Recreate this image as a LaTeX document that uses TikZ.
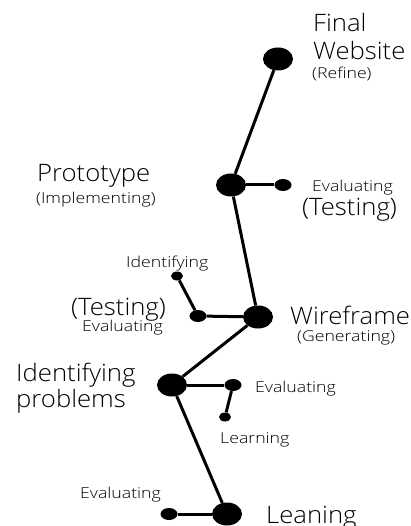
\documentclass[tikz,border=0pt]{standalone}
\usepackage{fontspec}
\setmainfont{Open Sans Light}
\newfontfamily\stagefont[FakeStretch=1.07]{Open Sans Light}
\newfontfamily\notefont[FakeStretch=1.18]{Open Sans Light}
\usetikzlibrary{shapes.geometric}
\tikzstyle{stage}=[ellipse, fill=black, inner sep=0pt, minimum width=30pt, minimum height=23pt]
\tikzstyle{branch}=[ellipse, fill=black, inner sep=0pt, minimum width=17pt, minimum height=12pt]
\tikzstyle{leaf}=[ellipse, fill=black, inner sep=0pt, minimum width=12pt, minimum height=9pt]
\tikzset{big/.style={anchor=base west, inner sep=0pt, font=\stagefont\fontsize{24}{28}\selectfont}}
\tikzset{small/.style={anchor=base west, inner sep=0pt, font=\notefont\fontsize{15}{18}\selectfont}}
\tikzset{link/.style={line width=3pt}}

\begin{document}
\begin{tikzpicture}[x=1pt,y=-1pt]
  \useasboundingbox (0,0) rectangle (411,526);

  \draw (278,59) node[stage] (S5) {};
  \draw (231,185) node[stage] (S4) {};
  \draw (258,317) node[stage] (S3) {};
  \draw (172,385) node[stage] (S2) {};
  \draw (227,514) node[stage] (S1) {};

  \draw (283,185) node[branch] (B4) {};
  \draw (198,316) node[branch] (B3) {};
  \draw (177,276) node[leaf] (T3) {};
  \draw (233,385) node[branch] (B2) {};
  \draw (225,417) node[leaf] (T2) {};
  \draw (169,514) node[branch] (B1) {};

  \draw[link] (S1) -- (S2);
  \draw[link] (S2) -- (S3);
  \draw[link] (S3) -- (S4);
  \draw[link] (S4) -- (S5);

  \draw[link] (S4) -- (B4);
  \draw[link] (S3) -- (B3);
  \draw[link] (B3) -- (T3);
  \draw[link] (S2) -- (B2);
  \draw[link] (B2) -- (T2);
  \draw[link] (S1) -- (B1);

  %% Labels
  \draw (313,32) node[big] (L5a) {Final};
  \draw (313,60) node[big] (L5b) {Website};
  \draw (312,79) node[small] (L5c) {(Refine)};

  \draw (37,182) node[big] (L4a) {Prototype};
  \draw (36,204) node[small] (L4b) {(Implementing)};
  \draw (312,192) node[small] (L4c) {Evaluating};
  \draw (302,215) node[big] (L4d) {(Testing)};

  \draw (126,267) node[small] (L3a) {Identifying};
  \draw (71,315) node[big] (L3b) {(Testing)};
  \draw (82,331) node[small] (L3c) {Evaluating};
  \draw (290,324) node[big] (L3d) {Wireframe};
  \draw (297,341) node[small] (L3e) {(Generating)};

  \draw (16,381) node[big] (L2a) {Identifying};
  \draw (16,407) node[big] (L2b) {problems};
  \draw (255,392) node[small] (L2c) {Evaluating};
  \draw (220,443) node[small] (L2d) {Learning};

  \draw (80,498) node[small] (L1a) {Evaluating};
  \draw (266,523) node[big] (L1b) {Leaning};
\end{tikzpicture}
\end{document}
